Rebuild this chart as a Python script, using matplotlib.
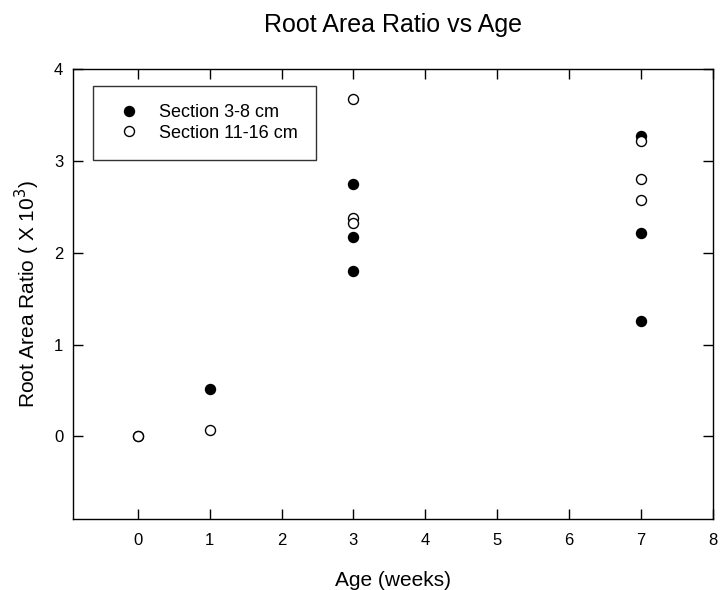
import matplotlib
matplotlib.use('Agg')
import matplotlib.pyplot as plt

plt.rcParams['font.family'] = ['Liberation Sans', 'DejaVu Sans']

# Section 3-8 cm (filled)
age_a = [0, 1, 3, 3, 3, 7, 7, 7]
rar_a = [0.0, 0.52, 2.75, 2.17, 1.80, 3.27, 2.21, 1.26]

# Section 11-16 cm (open)
age_b = [0, 1, 3, 3, 3, 7, 7, 7]
rar_b = [0.0, 0.065, 3.67, 2.38, 2.32, 3.22, 2.80, 2.57]

xticks = [0, 1, 2, 3, 4, 5, 6, 7, 8]
yticks = [0, 1, 2, 3, 4]

fig = plt.figure(figsize=(7.23, 5.9), dpi=100)
ax = fig.add_axes([0.101, 0.1203, 0.885, 0.7627])

ax.plot(age_a, rar_a, 'o', ms=7.2, mfc='black', mec='black', mew=1,
        linestyle='none', label='Section 3-8 cm')
ax.plot(age_b, rar_b, 'o', ms=7.2, mfc='white', mec='black', mew=1,
        linestyle='none', label='Section 11-16 cm')

ax.set_xlim(-0.9, 8)
ax.set_ylim(-0.9, 4)
ax.set_xticks(xticks)
ax.set_yticks(yticks)
ax.tick_params(direction='in', top=True, right=True, length=7.5, width=1,
               labelsize=12)
ax.tick_params(axis='x', pad=10)
ax.tick_params(axis='y', pad=7)
for s in ax.spines.values():
    s.set_linewidth(1)

ax.set_xlabel('Age (weeks)', fontsize=15, labelpad=16.5)
ax.set_ylabel('Root Area Ratio ( X 10$^3$)', fontsize=15, labelpad=8.5)
ax.set_title('Root Area Ratio vs Age', fontsize=18, pad=27)

leg = ax.legend(loc='upper left', bbox_to_anchor=(0.031, 0.962), fancybox=False,
                edgecolor='black', fontsize=13, handletextpad=0.65,
                borderpad=1.0, labelspacing=0.2, borderaxespad=0)
leg.get_frame().set_linewidth(1)

fig.savefig('out.png', dpi=100)
